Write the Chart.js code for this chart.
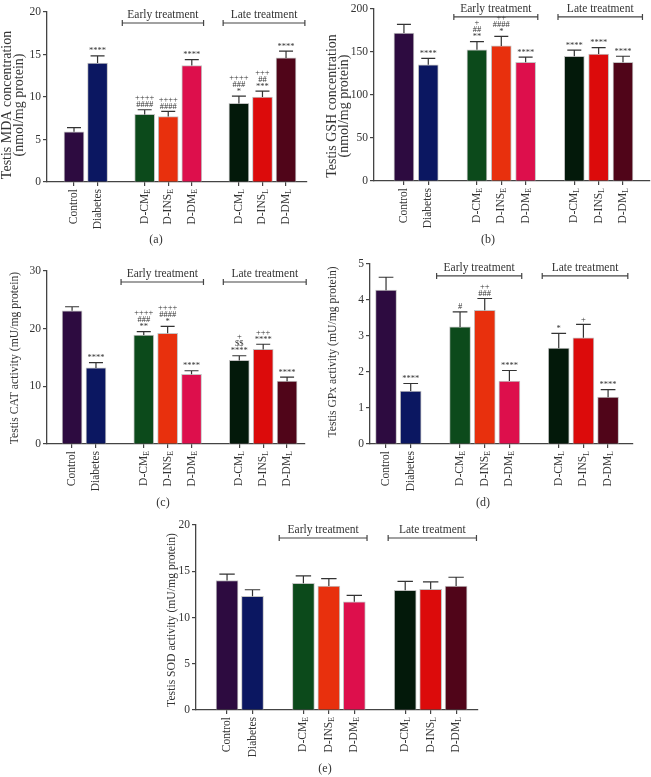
<!DOCTYPE html>
<html>
<head>
<meta charset="utf-8">
<script src="https://cdn.jsdelivr.net/npm/chart.js@4/dist/chart.umd.min.js"></script>
<style>
  body { margin: 0; background: #fff; }
  #page { position: relative; width: 651px; height: 777px; overflow: hidden; }
  canvas { position: absolute; }
</style>
</head>
<body>
<div id="page">
  <canvas id="panelA"></canvas>
  <canvas id="panelB"></canvas>
  <canvas id="panelC"></canvas>
  <canvas id="panelD"></canvas>
  <canvas id="panelE"></canvas>
</div>
<script>
// groups (base label + subscript) and how they are split into blocks
const groupNames = ['Control', 'Diabetes', 'D-CM', 'D-INS', 'D-DM', 'D-CM', 'D-INS', 'D-DM'];
const groupSubs = ['', '', 'E', 'E', 'E', 'L', 'L', 'L'];
const blocks = [[0, 1], [2, 3, 4], [5, 6, 7]];
const barColors = ['#2d0b40', '#0b1761', '#0c4a1b', '#e8300d', '#dd0f4c', '#03190a', '#dc0b0b', '#500519'];
const treatments = ['Early treatment', 'Late treatment'];

// (a) MDA
const mdaMean = [5.9, 14.0, 7.95, 7.7, 13.7, 9.25, 10.0, 14.6];
const mdaErr = [0.5, 0.85, 0.55, 0.6, 0.7, 0.85, 0.7, 0.8];
const mdaMarks = [[], ['****'], ['++++', '####'], ['++++', '####'], ['****'], ['++++', '###', '*'], ['+++', '##', '***'], ['****']];
const mdaTicks = [0, 5, 10, 15, 20];

// (b) GSH
const gshMean = [172, 135, 152.5, 157, 138, 145, 147.5, 138];
const gshErr = [10, 7.5, 9.5, 11, 6, 7, 7.5, 7];
const gshMarks = [[], ['****'], ['+', '##', '**'], ['++', '####', '*'], ['****'], ['****'], ['****'], ['****']];
const gshTicks = [0, 50, 100, 150, 200];

// (c) CAT
const catMean = [23.1, 13.2, 18.9, 19.2, 12.1, 14.5, 16.4, 10.9];
const catErr = [0.7, 0.9, 0.6, 1.2, 0.6, 0.8, 0.9, 0.7];
const catMarks = [[], ['****'], ['++++', '###', '**'], ['++++', '####', '*'], ['****'], ['+', '$$', '****'], ['+++', '****'], ['****']];
const catTicks = [0, 10, 20, 30];

// (d) GPx
const gpxMean = [4.27, 1.47, 3.25, 3.71, 1.75, 2.66, 2.95, 1.30];
const gpxErr = [0.36, 0.21, 0.42, 0.33, 0.29, 0.41, 0.37, 0.21];
const gpxMarks = [[], ['****'], ['#'], ['++', '###'], ['****'], ['*'], ['+'], ['****']];
const gpxTicks = [0, 1, 2, 3, 4, 5];

// (e) SOD
const sodMean = [14.0, 12.3, 13.7, 13.4, 11.7, 12.95, 13.05, 13.4];
const sodErr = [0.7, 0.7, 0.8, 0.8, 0.7, 0.95, 0.8, 0.95];
const sodMarks = [[], [], [], [], [], [], [], []];
const sodTicks = [0, 5, 10, 15, 20];

// x slot of each group: one empty slot between blocks
const slotOf = [];
blocks.forEach((b, bi) => b.forEach(gi => { slotOf[gi] = gi + bi; }));
const bracketSpans = [[2.05, 5.5], [6.33, 9.8]];

const SERIF = '"Liberation Serif", "DejaVu Serif", serif';
const INK = '#333';

function decorPlugin(p) {
  return {
    id: 'decor',
    afterDatasetsDraw(chart) {
      const { ctx, scales: { y } } = chart;
      const meta = chart.getDatasetMeta(0);
      ctx.save();
      ctx.strokeStyle = INK;
      ctx.lineWidth = 1.2;
      ctx.fillStyle = INK;
      ctx.textAlign = 'center';
      ctx.textBaseline = 'alphabetic';
      ctx.font = '8.5px ' + SERIF;
      meta.data.forEach((bar, i) => {
        const top = y.getPixelForValue(p.mean[i] + p.err[i]);
        const cap = p.barW * 0.35;
        ctx.beginPath();
        ctx.moveTo(bar.x, bar.y);
        ctx.lineTo(bar.x, top);
        ctx.moveTo(bar.x - cap, top);
        ctx.lineTo(bar.x + cap, top);
        ctx.stroke();
        const lines = p.marks[i];
        lines.forEach((t, k) => {
          ctx.fillText(t, bar.x, top - 2.5 - (lines.length - 1 - k) * 7);
        });
      });
      ctx.restore();
    },
    afterDraw(chart) {
      const { ctx, chartArea: a, scales: { x } } = chart;
      const ox = p.box[0], oy = p.box[1];
      ctx.save();
      ctx.fillStyle = INK;
      ctx.strokeStyle = '#444';

      // rotated category labels with subscripts
      groupNames.forEach((name, i) => {
        const px = x.getPixelForValue(slotOf[i]);
        ctx.save();
        ctx.translate(px, a.bottom + 7);
        ctx.rotate(-Math.PI / 2);
        ctx.textBaseline = 'middle';
        ctx.textAlign = 'left';
        ctx.font = '11.5px ' + SERIF;
        const wb = ctx.measureText(name).width;
        ctx.font = '8px ' + SERIF;
        const ws = groupSubs[i] ? ctx.measureText(groupSubs[i]).width : 0;
        ctx.font = '11.5px ' + SERIF;
        ctx.fillText(name, -(wb + ws), 0);
        if (groupSubs[i]) {
          ctx.font = '8px ' + SERIF;
          ctx.fillText(groupSubs[i], -ws, 3);
        }
        ctx.restore();
      });

      // treatment brackets
      const by = a.top + p.bracketDy;
      ctx.lineWidth = 1.2;
      ctx.font = '11.5px ' + SERIF;
      ctx.textAlign = 'center';
      ctx.textBaseline = 'alphabetic';
      bracketSpans.forEach((s, k) => {
        const x1 = x.getPixelForValue(s[0]);
        const x2 = x.getPixelForValue(s[1]);
        ctx.beginPath();
        ctx.moveTo(x1, by); ctx.lineTo(x2, by);
        ctx.moveTo(x1, by - 3); ctx.lineTo(x1, by + 3);
        ctx.moveTo(x2, by - 3); ctx.lineTo(x2, by + 3);
        ctx.stroke();
        ctx.fillText(treatments[k], (x1 + x2) / 2, by - 5);
      });

      // y title (one or two rotated lines)
      ctx.font = p.titleSize + 'px ' + SERIF;
      ctx.textBaseline = 'middle';
      p.title.forEach((t, k) => {
        ctx.save();
        ctx.translate(p.titleX[k] - ox, p.titleY - oy);
        ctx.rotate(-Math.PI / 2);
        ctx.fillText(t, 0, 0);
        ctx.restore();
      });

      // panel caption
      ctx.font = '12px ' + SERIF;
      ctx.fillText(p.caption, p.captionAt[0] - ox, p.captionAt[1] - oy);
      ctx.restore();
    }
  };
}

function makePanel(id, p) {
  const canvas = document.getElementById(id);
  const [bx, by, bw, bh] = p.box;
  canvas.width = bw; canvas.height = bh;
  canvas.style.left = bx + 'px'; canvas.style.top = by + 'px';
  const yW = 30, xH = 6;
  const axisLine = { color: '#444', width: 1.3 };
  const tickGrid = { drawOnChartArea: false, drawTicks: true, tickLength: 4, color: '#444', lineWidth: 1.2, offset: false };

  return new Chart(canvas.getContext('2d'), {
    type: 'bar',
    data: {
      datasets: [{
        data: p.mean.map((v, i) => ({ x: slotOf[i], y: v })),
        backgroundColor: barColors,
        borderColor: '#c4c4c4',
        borderWidth: 1,
        barThickness: p.barW
      }]
    },
    options: {
      responsive: false,
      animation: false,
      layout: {
        padding: {
          left: p.area[0] - bx - yW,
          top: p.area[1] - by,
          right: bx + bw - p.area[2],
          bottom: by + bh - p.area[3] - xH
        }
      },
      plugins: { legend: { display: false }, tooltip: { enabled: false } },
      scales: {
        x: {
          type: 'linear',
          offset: false,
          min: p.xRange[0],
          max: p.xRange[1],
          afterBuildTicks: s => { s.ticks = slotOf.map(v => ({ value: v })); },
          afterFit: s => { s.height = xH; },
          ticks: { display: false },
          grid: tickGrid,
          border: axisLine
        },
        y: {
          min: 0,
          max: p.yTicks[p.yTicks.length - 1],
          afterBuildTicks: s => { s.ticks = p.yTicks.map(v => ({ value: v })); },
          afterFit: s => { s.width = yW; },
          ticks: { color: INK, padding: 2, font: { family: SERIF, size: 11.5 } },
          grid: tickGrid,
          border: axisLine
        }
      }
    },
    plugins: [decorPlugin(p)]
  });
}

makePanel('panelA', {
  box: [0, 0, 325, 255], area: [47, 12, 307, 182], xRange: [-1.146, 9.89],
  mean: mdaMean, err: mdaErr, marks: mdaMarks, yTicks: mdaTicks, barW: 20,
  title: ['Testis MDA concentration', '(nmol/mg protein)'], titleX: [7.5, 19.5], titleY: 105, titleSize: 14,
  bracketDy: 11, caption: '(a)', captionAt: [156, 240]
});
makePanel('panelB', {
  box: [325, 0, 326, 255], area: [374, 5, 650, 181], xRange: [-1.23, 10.11],
  mean: gshMean, err: gshErr, marks: gshMarks, yTicks: gshTicks, barW: 20,
  title: ['Testis GSH concentration', '(nmol/mg protein)'], titleX: [332.5, 344], titleY: 106, titleSize: 14,
  bracketDy: 8, caption: '(b)', captionAt: [488, 240]
});
makePanel('panelC', {
  box: [0, 255, 325, 260], area: [47, 271, 305, 444], xRange: [-1.05, 9.75],
  mean: catMean, err: catErr, marks: catMarks, yTicks: catTicks, barW: 20,
  title: ['Testis CAT activity (mU/mg protein)'], titleX: [15], titleY: 358, titleSize: 11.7,
  bracketDy: 11, caption: '(c)', captionAt: [163, 503]
});
makePanel('panelD', {
  box: [325, 255, 326, 260], area: [370, 262, 633, 444], xRange: [-0.65, 10.01],
  mean: gpxMean, err: gpxErr, marks: gpxMarks, yTicks: gpxTicks, barW: 21,
  title: ['Testis GPx activity (mU/mg protein)'], titleX: [333], titleY: 352, titleSize: 11.7,
  bracketDy: 12, caption: '(d)', captionAt: [483, 503]
});
makePanel('panelE', {
  box: [150, 510, 350, 267], area: [196, 525, 478, 710], xRange: [-1.22, 9.86],
  mean: sodMean, err: sodErr, marks: sodMarks, yTicks: sodTicks, barW: 22,
  title: ['Testis SOD activity (mU/mg protein)'], titleX: [172], titleY: 620, titleSize: 11.7,
  bracketDy: 13, caption: '(e)', captionAt: [325, 769]
});
</script>
</body>
</html>
